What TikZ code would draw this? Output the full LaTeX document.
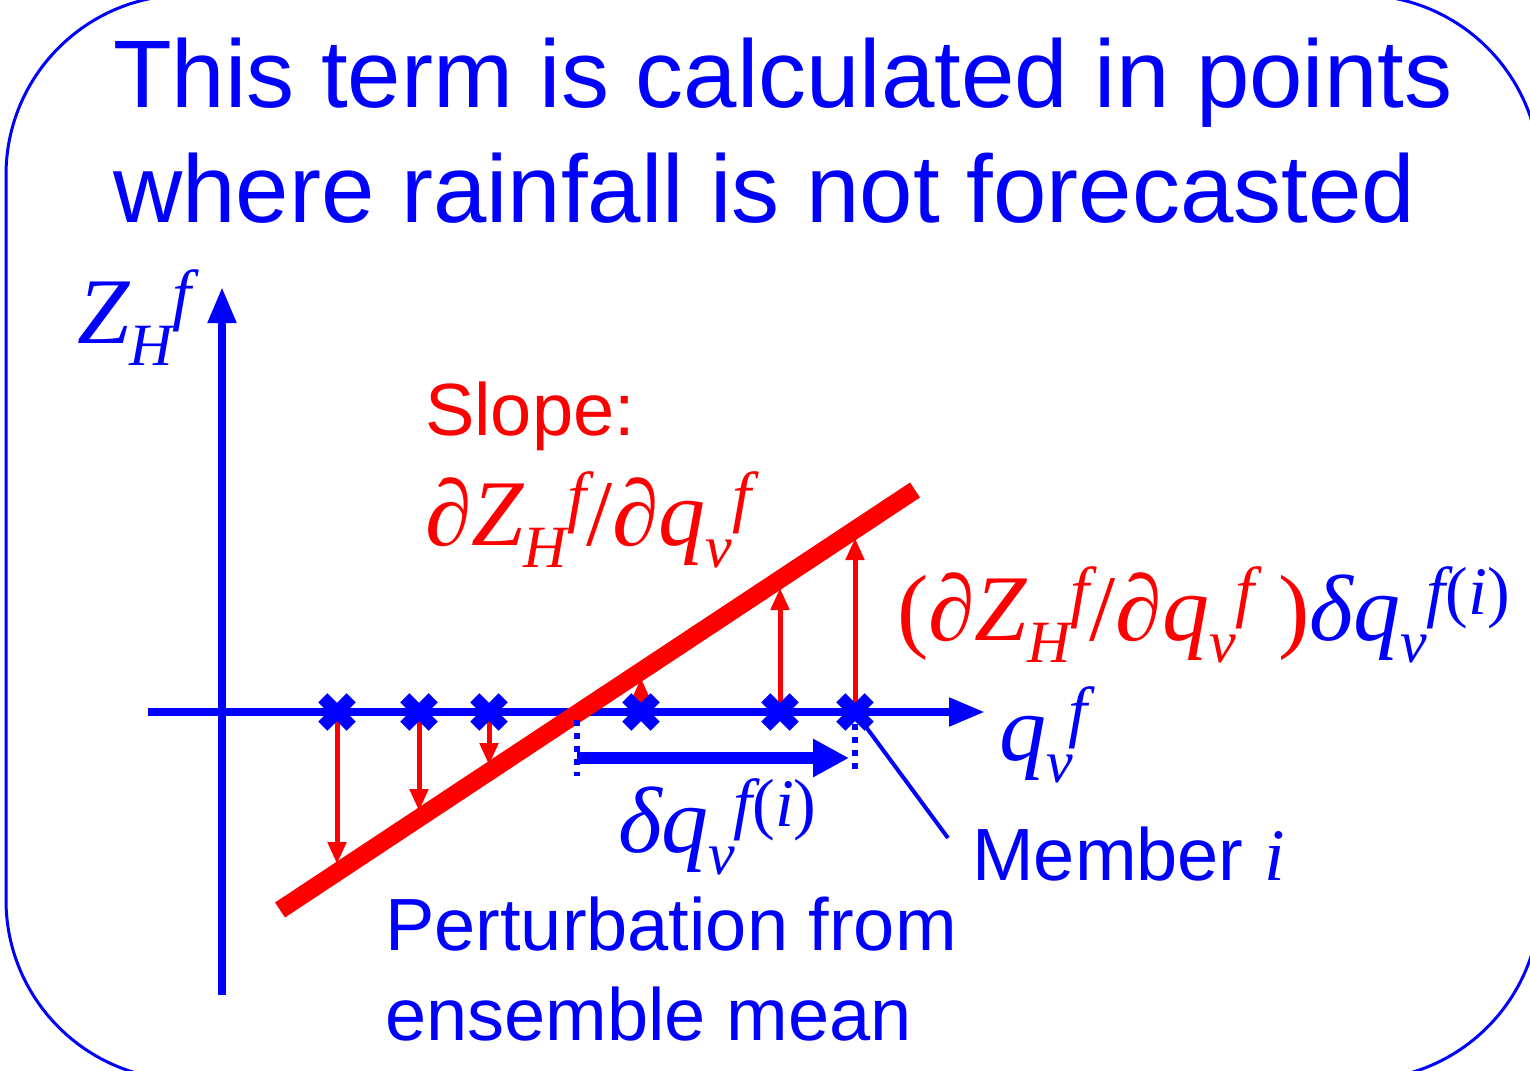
\documentclass[tikz,border=0pt]{standalone}
\usepackage{fontspec}
\setmainfont{Liberation Sans}
\newfontfamily\tms{Liberation Serif}
\usetikzlibrary{arrows.meta}
\newcommand\It[1]{{\tms\itshape #1}}
\newcommand\Up[1]{{\tms #1}}
\newcommand\Sb[1]{\raisebox{-22pt}{\fontsize{60pt}{60pt}\selectfont\tms\itshape #1}}
\newcommand\Sp[1]{\raisebox{26pt}{\fontsize{68pt}{68pt}\selectfont\tms\itshape #1}}
\newcommand\SpFi{\raisebox{26pt}{\fontsize{68pt}{68pt}\selectfont\tms\itshape f{\upshape(}i{\upshape)}}}
\begin{document}
\begin{tikzpicture}[x=1pt,y=-1pt,
  frame/.style={draw=blue, line width=3pt, rounded corners=180pt},
  axis/.style={blue, line width=8pt, -{Triangle[length=36pt,width=27pt]}},
  slopeline/.style={red, line width=18pt},
  redarrow/.style={red, line width=5pt, -{Triangle[length=22pt,width=18pt]}},
  xmark/.style={rectangle, inner sep=0pt, minimum size=28pt},
  xstroke/.style={blue, line width=13pt},
  dots/.style={blue, line width=6pt, dash pattern=on 6pt off 7pt},
  pert/.style={blue, line width=12pt, -{Triangle[length=36pt,width=36pt]}},
  thin/.style={blue, line width=4pt},
  title/.style={blue, inner sep=0pt, anchor=base west, font=\fontsize{96pt}{115pt}\selectfont},
  label/.style={inner sep=0pt, anchor=base west, font=\fontsize{74pt}{90pt}\selectfont},
  mathlbl/.style={inner sep=0pt, anchor=base west, font=\fontsize{94pt}{110pt}\selectfont}
]
\useasboundingbox (0,0) rectangle (1530,1070);
\draw[frame] (6,-5) rectangle (1540,1080);

% titles
\node[title] (t1) at (113,107) {This term is calculated in points};
\node[title] (t2) at (113,222) {where rainfall is not forecasted};

% axes
\coordinate (yb) at (222,995);
\coordinate (yt) at (222,287);
\coordinate (xl) at (148,712);
\coordinate (xr) at (985,712);
\draw[axis] (yb) -- (yt);
\draw[axis] (xl) -- (xr);

% slope line end points
\coordinate (s0) at (280,910);
\coordinate (s1) at (915,490);

% ensemble members on the axis
\node[xmark] (c1) at (337,712) {};
\node[xmark] (c2) at (419,712) {};
\node[xmark] (c3) at (489,712) {};
\node[xmark] (c4) at (641,712) {};
\node[xmark] (c5) at (780,712) {};
\node[xmark] (c6) at (855,712) {};

% projections on the slope line
\coordinate (l1) at (337,864);
\coordinate (l2) at (419,811);
\coordinate (l3) at (489,765);
\coordinate (l4) at (641,678);
\coordinate (l5) at (780,588);
\coordinate (l6) at (855,538);
\draw[redarrow] (c1.center) -- (l1);
\draw[redarrow] (c2.center) -- (l2);
\draw[redarrow] (c3.center) -- (l3);
\draw[redarrow] (c4.center) -- (l4);
\draw[redarrow] (c5.center) -- (l5);
\draw[redarrow] (c6.center) -- (l6);

\draw[slopeline] (s0) -- (s1);

% crosses on top
\foreach \n in {c1,c2,c3,c4,c5,c6}{
  \draw[xstroke] (\n.south west) -- (\n.north east);
  \draw[xstroke] (\n.north west) -- (\n.south east);
}

% perturbation arrow
\coordinate (d0) at (577,720);
\coordinate (d0b) at (577,776);
\coordinate (d1) at (855,724);
\coordinate (d1b) at (855,776);
\draw[dots] (d0) -- (d0b);
\draw[dots] (d1) -- (d1b);
\coordinate (pa) at (577,758);
\coordinate (pb) at (849,758);
\draw[pert] (pa) -- (pb);

% member line
\node[label, blue] (mem) at (972,880) {Member \It{i}};
\coordinate (mend) at (948,838);
\draw[thin] (c6.center) -- (mend);

% labels
\node[mathlbl, blue] (zlab) at (77,343) {\It{Z}\Sb{H}\Sp{f}};
\node[mathlbl, blue] (qlab) at (999,760) {\It{q}\Sb{v}\kern-4pt\Sp{f}};
\node[label, red] (slope) at (425,435) {Slope:};
\node[mathlbl, red] (deriv) at (425,545) {\It{∂Z}\Sb{H}\Sp{f}\Up{/}\It{∂q}\Sb{v}\Sp{f}};
\node[mathlbl, blue] (dq) at (618,852) {\It{δq}\Sb{v}\kern-2pt\SpFi};
\node[mathlbl] (prod) at (897,640) {\color{red}\Up{(}\It{∂Z}\Sb{H}\Sp{f}\Up{/}\It{∂q}\Sb{v}\Sp{f}\Up{ )}\color{blue}\It{δq}\Sb{v}\SpFi};
\node[label, blue] (p1) at (385,950) {Perturbation from};
\node[label, blue] (p2) at (385,1040) {ensemble mean};
\end{tikzpicture}
\end{document}
